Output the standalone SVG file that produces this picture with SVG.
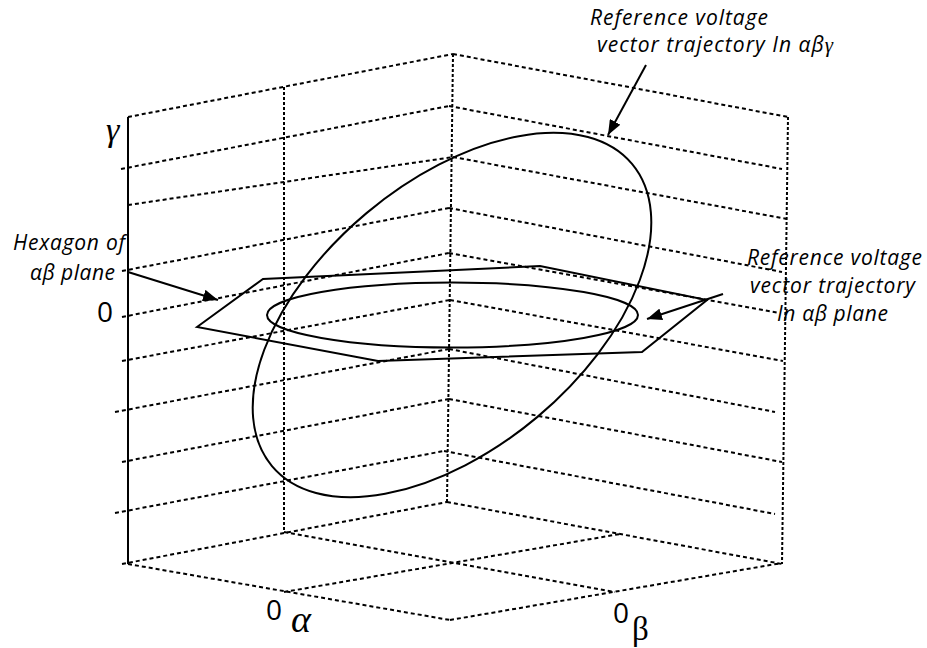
<svg xmlns="http://www.w3.org/2000/svg" width="927" height="648" viewBox="0 0 927 648">
<style>
.d{fill:none;stroke:#000;stroke-width:2;stroke-dasharray:4 3}
.v{fill:none;stroke:#000;stroke-width:2;stroke-dasharray:3 2}
.s{fill:none;stroke:#000;stroke-width:2}
.lab{font-family:"Open Sans","Liberation Sans",sans-serif;font-style:italic;font-size:21px;fill:#000}
.num{font-family:"Open Sans","Liberation Sans",sans-serif;font-size:28px;fill:#000}
.sym{font-family:"Liberation Serif",serif;font-style:italic;fill:#000}
</style>
<defs>
<marker id="ah" markerUnits="userSpaceOnUse" markerWidth="16" markerHeight="12" refX="15" refY="6" orient="auto">
<path d="M0,0 L15,6 L0,12 z" fill="#000"/>
</marker>
</defs>
<rect width="927" height="648" fill="#fff"/>
<g id="grid">
<g id="left-wall">
<line class="d" x1="128" y1="117" x2="453" y2="54"/>
<line class="d" x1="121" y1="169" x2="449" y2="106"/>
<line class="d" x1="128" y1="205" x2="453" y2="157"/>
<line class="d" x1="122" y1="271" x2="449" y2="208"/>
<line class="d" x1="122" y1="317" x2="449" y2="253"/>
<line class="d" x1="122" y1="361" x2="450" y2="300"/>
<line class="d" x1="115" y1="412" x2="449" y2="349"/>
<line class="d" x1="122" y1="462" x2="449" y2="399"/>
<line class="d" x1="115" y1="513" x2="444" y2="451"/>
<line class="d" x1="122" y1="564" x2="447" y2="502"/>
</g>
<g id="right-wall">
<line class="d" x1="453" y1="54" x2="788" y2="117"/>
<line class="d" x1="449" y1="106" x2="782" y2="169"/>
<line class="d" x1="453" y1="157" x2="787" y2="219"/>
<line class="d" x1="449" y1="208" x2="782" y2="272"/>
<line class="d" x1="449" y1="253" x2="779" y2="313"/>
<line class="d" x1="450" y1="300" x2="783" y2="361"/>
<line class="d" x1="449" y1="349" x2="775" y2="412"/>
<line class="d" x1="449" y1="399" x2="782" y2="462"/>
<line class="d" x1="444" y1="451" x2="775" y2="514"/>
<line class="d" x1="447" y1="502" x2="782" y2="564"/>
</g>
<g id="verticals">
<line class="v" x1="453" y1="54" x2="447" y2="502"/>
<line class="v" x1="284" y1="87" x2="284" y2="532"/>
<line class="v" x1="788" y1="117" x2="782" y2="564"/>
</g>
<g id="floor">
<line class="d" x1="128" y1="564" x2="450" y2="620"/>
<line class="d" x1="450" y1="620" x2="782" y2="563"/>
<line class="d" x1="284" y1="532" x2="615" y2="592"/>
<line class="d" x1="284" y1="592" x2="620" y2="534"/>
</g>
<line id="gamma-axis" class="s" x1="128" y1="117" x2="128" y2="564"/>
</g>
<g id="hexagon">
<polygon class="s" points="197,327 263,279 540,266 707,300 642,352 378,361"/>
</g>
<g id="ab-trajectory">
<ellipse class="s" cx="452.5" cy="315" rx="185.5" ry="32.5"/>
</g>
<g id="abg-trajectory">
<ellipse class="s" cx="452" cy="315" rx="235" ry="133" transform="rotate(-40 452 315)"/>
</g>
<g id="connectors">
<line class="s" x1="646" y1="65" x2="608" y2="135" marker-end="url(#ah)"/>
<line class="s" x1="128" y1="272" x2="218" y2="300" marker-end="url(#ah)"/>
<line class="s" x1="723" y1="294" x2="647" y2="319" marker-end="url(#ah)"/>
</g>
<g id="labels">
<text class="sym" x="106" y="141" font-size="34">γ</text>
<text class="num" x="97" y="322">0</text>
<text class="lab" x="13" y="250" textLength="112" lengthAdjust="spacing">Hexagon of</text>
<text class="lab" x="30" y="280" textLength="85" lengthAdjust="spacing">αβ plane</text>
<text class="lab" x="590" y="25" textLength="178" lengthAdjust="spacing">Reference voltage</text>
<text class="lab" x="597" y="52" textLength="236" lengthAdjust="spacing">vector trajectory In αβ<tspan font-family="Liberation Serif, serif" font-size="21">γ</tspan></text>
<text class="lab" x="747" y="265" textLength="175" lengthAdjust="spacing">Reference voltage</text>
<text class="lab" x="750" y="293" textLength="165" lengthAdjust="spacing">vector trajectory</text>
<text class="lab" x="777" y="321" textLength="111" lengthAdjust="spacing">In αβ plane</text>
<text class="num" x="266" y="620">0</text>
<text class="sym" x="291" y="632" font-size="38">α</text>
<text class="num" x="613" y="623">0</text>
<text font-family="Liberation Serif, serif" x="632" y="640" font-size="33">β</text>
</g>
</svg>
